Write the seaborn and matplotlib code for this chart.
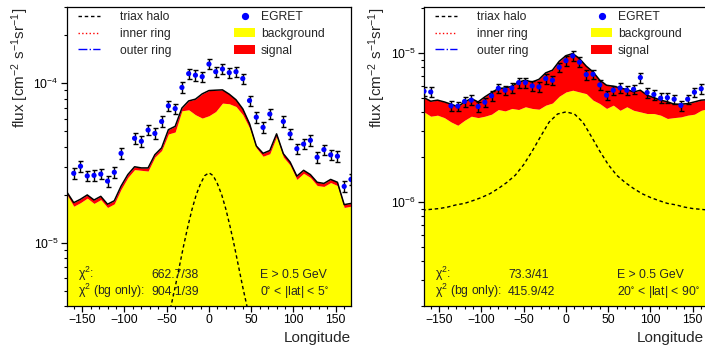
import numpy as np
import pandas as pd
import matplotlib
matplotlib.use("Agg")
import matplotlib.pyplot as plt
from matplotlib.lines import Line2D
from matplotlib.patches import Patch
from matplotlib.ticker import MultipleLocator, LogLocator, NullFormatter
import seaborn as sns

# ---- data ----
# longitude grid of the model curves (deg)
lon_model = np.arange(-168, 169, 8)

# left panel: 0 < |lat| < 5, flux in units of 1e-5
SCALE_L = 1e-5
total_l = [2.07, 1.78, 1.87, 1.99, 1.85, 1.95, 1.74, 1.83, 2.26, 2.67,
           2.99, 2.94, 2.94, 3.56, 3.93, 5.11, 5.36, 6.98, 7.74, 7.94,
           8.57, 8.99, 9.04, 9.08, 8.53, 7.87, 6.90, 5.57, 4.04, 3.63,
           3.78, 4.81, 3.61, 3.20, 2.61, 2.84, 2.67, 2.39, 2.35, 2.49,
           2.39, 1.73, 1.76]
bg_l = [2.00, 1.69, 1.78, 1.90, 1.76, 1.86, 1.66, 1.75, 2.16, 2.56,
        2.87, 2.84, 2.81, 3.44, 3.78, 4.80, 4.94, 6.71, 6.81, 6.34,
        6.04, 6.25, 6.64, 7.50, 7.43, 7.14, 6.34, 5.24, 3.93, 3.48,
        3.61, 4.63, 3.44, 3.06, 2.49, 2.72, 2.56, 2.28, 2.25, 2.38,
        2.28, 1.66, 1.69]
egret_lon_l = [-160, -152, -144, -136, -128, -120, -112, -104, -88, -80,
               -72, -64, -56, -48, -40, -32, -24, -16, -8, 0,
               8, 16, 24, 32, 40, 48, 56, 64, 72, 88,
               96, 104, 112, 120, 128, 136, 144, 152, 160, 168]
egret_l = [2.72, 3.01, 2.62, 2.64, 2.69, 2.43, 2.76, 3.63, 4.51, 4.32,
           5.08, 4.84, 5.75, 7.21, 6.93, 9.40, 11.48, 11.22, 10.99, 13.18,
           11.80, 12.27, 11.64, 11.80, 10.69, 7.78, 6.12, 5.28, 6.40, 5.75,
           4.80, 3.88, 4.15, 4.38, 3.43, 3.83, 3.55, 3.48, 2.25, 2.49]
halo_lon_l = [-50, -45, -40, -35, -30, -25, -20, -15, -10, -5, 0,
              5, 10, 15, 20, 25, 30, 35, 40, 45, 50]
halo_l = [0.295, 0.398, 0.525, 0.708, 0.955, 1.26, 1.62, 2.00, 2.34, 2.63, 2.74,
          2.63, 2.34, 2.00, 1.62, 1.26, 0.955, 0.708, 0.525, 0.398, 0.295]

# right panel: 20 < |lat| < 90, flux in units of 1e-6
SCALE_R = 1e-6
total_r = [5.01, 4.74, 4.82, 4.69, 4.53, 4.35, 4.69, 4.94, 4.69, 5.07,
           5.42, 5.77, 5.82, 5.97, 6.38, 6.56, 6.38, 6.65, 7.35, 7.66,
           8.79, 9.59, 9.91, 9.16, 8.15, 7.46, 6.56, 6.07, 5.98, 5.82,
           5.68, 5.47, 5.62, 5.20, 5.01, 4.82, 4.70, 4.53, 4.53, 4.57,
           4.69, 4.82, 4.86]
bg_r = [4.02, 3.76, 3.82, 3.68, 3.44, 3.27, 3.53, 3.76, 3.68, 3.76,
        3.88, 4.17, 4.08, 4.24, 4.17, 4.35, 4.24, 4.19, 4.46, 4.61,
        5.12, 5.47, 5.62, 5.47, 5.33, 4.82, 4.57, 4.24, 4.46, 4.12,
        4.35, 4.12, 4.02, 3.92, 3.92, 3.82, 3.63, 3.68, 3.72, 3.82,
        3.88, 4.12, 4.24]
egret_lon_r = [-168, -160, -136, -128, -120, -112, -104, -96, -88, -80,
               -72, -64, -56, -48, -40, -32, -24, -16, -8, 0,
               8, 16, 24, 32, 40, 48, 56, 64, 72, 80,
               88, 96, 104, 112, 120, 128, 136, 144, 152, 160, 168]
egret_r = [5.53, 5.47, 4.41, 4.39, 4.72, 4.82, 4.37, 4.67, 5.15, 5.79,
           5.62, 5.82, 6.32, 6.32, 6.01, 5.92, 6.73, 6.56, 8.02, 8.87,
           9.55, 8.67, 7.16, 7.19, 6.10, 5.20, 5.62, 5.82, 5.62, 5.70,
           6.84, 5.42, 5.26, 4.97, 5.01, 4.89, 4.44, 4.89, 5.45, 5.75, 5.90]
halo_lon_r = [-170, -160, -150, -140, -130, -120, -110, -100, -90, -80,
              -70, -60, -50, -40, -30, -20, -10, 0, 10, 20,
              30, 40, 50, 60, 70, 80, 90, 100, 110, 120,
              130, 140, 150, 160, 170]
halo_r = [0.879, 0.891, 0.902, 0.923, 0.955, 0.977, 1.02, 1.07, 1.135, 1.23,
          1.35, 1.51, 1.78, 2.19, 2.75, 3.43, 3.89, 4.02, 3.89, 3.43,
          2.75, 2.19, 1.78, 1.51, 1.35, 1.23, 1.135, 1.07, 1.02, 0.977,
          0.955, 0.923, 0.902, 0.891, 0.879]

REL_ERR = 0.075  # EGRET error bars, about +-7.5 %

# ---- style ----
sns.set_theme(style="ticks")
plt.rcParams["font.family"] = ["Liberation Sans", "DejaVu Sans"]
plt.rcParams["mathtext.default"] = "regular"
plt.rcParams["axes.edgecolor"] = "black"
plt.rcParams["axes.linewidth"] = 0.9
plt.rcParams["xtick.color"] = "black"
plt.rcParams["ytick.color"] = "black"

YELLOW = "#ffff00"
RED = "#ff0000"
BLUE = "#0000ff"
HALO_LS = (0, (2.5, 2))


def draw_panel(ax, scale, total, bg, e_lon, e_val, h_lon, h_val, ylim, texts, xlab_x=1.0):
    df = pd.DataFrame({"lon": lon_model,
                       "total": np.array(total) * scale,
                       "bg": np.array(bg) * scale})
    pts = pd.DataFrame({"lon": e_lon, "flux": np.array(e_val) * scale})
    halo = pd.DataFrame({"lon": h_lon, "flux": np.array(h_val) * scale})

    ax.set_yscale("log")
    ax.fill_between(df["lon"], ylim[0], df["bg"], color=YELLOW, lw=0, zorder=1)
    ax.fill_between(df["lon"], df["bg"], df["total"], color=RED, lw=0, zorder=1)
    sns.lineplot(data=df, x="lon", y="total", color="black", lw=1.1, ax=ax, zorder=3)
    sns.lineplot(data=halo, x="lon", y="flux", color="black", lw=1.0,
                 linestyle=HALO_LS, ax=ax, zorder=3)
    ax.errorbar(pts["lon"], pts["flux"], yerr=pts["flux"] * REL_ERR, fmt="none",
                ecolor="black", elinewidth=1.0, capsize=1.8, capthick=1.0, zorder=4)
    sns.scatterplot(data=pts, x="lon", y="flux", color=BLUE, s=14,
                    edgecolor="none", ax=ax, zorder=5)

    ax.set_xlim(-168, 168)
    ax.set_ylim(*ylim)
    ax.xaxis.set_major_locator(MultipleLocator(50))
    ax.xaxis.set_minor_locator(MultipleLocator(10))
    ax.yaxis.set_major_locator(LogLocator(base=10))
    ax.yaxis.set_minor_locator(LogLocator(base=10, subs=np.arange(2, 10)))
    ax.yaxis.set_minor_formatter(NullFormatter())
    ax.tick_params(axis="both", which="major", labelsize=8.7, length=4, width=0.9, pad=2)
    ax.tick_params(axis="both", which="minor", length=2.5, width=0.8)

    ax.set_xlabel("Longitude", fontsize=11, loc="right")
    ax.xaxis.set_label_coords(xlab_x, -0.083)
    ax.set_ylabel("flux [cm$^{-2}$ s$^{-1}$sr$^{-1}$]", fontsize=11, loc="top")
    ax.yaxis.set_label_coords(-0.128, 1.0)

    leg1 = ax.legend(handles=[Line2D([], [], color="black", lw=1, ls=HALO_LS),
                              Line2D([], [], color=RED, lw=1, ls=":"),
                              Line2D([], [], color=BLUE, lw=1, ls="-.")],
                     labels=["triax halo", "inner ring", "outer ring"],
                     loc="upper left", bbox_to_anchor=(0.038, 0.987), frameon=False,
                     fontsize=8.7, handlelength=1.8, handletextpad=1.7,
                     labelspacing=0.4, borderpad=0, borderaxespad=0)
    ax.add_artist(leg1)
    ax.legend(handles=[Line2D([], [], color=BLUE, marker="o", ms=4.2, ls="none"),
                       Patch(facecolor=YELLOW, edgecolor="none"),
                       Patch(facecolor=RED, edgecolor="none")],
              labels=["EGRET", "background", "signal"],
              loc="upper left", bbox_to_anchor=(0.587, 0.987), frameon=False,
              fontsize=8.7, handlelength=1.8, handletextpad=0.45,
              labelspacing=0.4, borderpad=0, borderaxespad=0)

    chi2, chi2_bg, lat = texts
    kw = dict(transform=ax.transAxes, fontsize=8.8, va="baseline", zorder=6)
    ax.text(0.039, 0.092, "χ$^2$:", **kw)
    ax.text(0.039, 0.037, "χ$^2$ (bg only):", **kw)
    ax.text(0.296, 0.092, chi2, **kw)
    ax.text(0.296, 0.037, chi2_bg, **kw)
    ax.text(0.68, 0.092, "E > 0.5 GeV", **kw)
    ax.text(0.68, 0.037, lat, **kw)


fig = plt.figure(figsize=(7.05, 3.52), dpi=100)
ax_l = fig.add_axes([0.095, 0.1307, 0.4028, 0.849])
ax_r = fig.add_axes([0.6014, 0.1307, 0.4028, 0.849])

draw_panel(ax_l, SCALE_L, total_l, bg_l, egret_lon_l, egret_l, halo_lon_l, halo_l,
           (4e-6, 3e-4), ("662.7/38", "904.1/39", "0$^{\\circ}$ < |lat| < 5$^{\\circ}$"))
draw_panel(ax_r, SCALE_R, total_r, bg_r, egret_lon_r, egret_r, halo_lon_r, halo_r,
           (2e-7, 2.03e-5), ("73.3/41", "415.9/42", "20$^{\\circ}$ < |lat| < 90$^{\\circ}$"),
           xlab_x=0.985)

fig.savefig("out.png", dpi=100, facecolor="white")
